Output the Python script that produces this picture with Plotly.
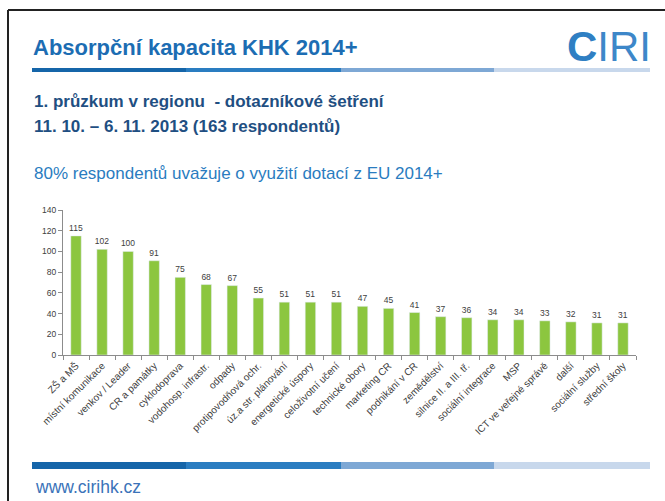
import plotly.graph_objects as go

categories = ["ZŠ a MŠ", "místní komunikace", "venkov / Leader", "CR a památky", "cyklodoprava",
              "vodohosp. infrastr.", "odpady", "protipovodňová ochr.", "úz.a str. plánování",
              "energetické úspory", "celoživotní učení", "technické obory", "marketing CR",
              "podnikání v CR", "zemědělství", "silnice II. a III. tř.", "sociální integrace",
              "MSP", "ICT ve veřejné správě", "další", "sociální služby", "střední školy"]
values = [115, 102, 100, 91, 75, 68, 67, 55, 51, 51, 51, 47, 45, 41, 37, 36, 34, 34, 33, 32, 31, 31]
y_ticks = [0, 20, 40, 60, 80, 100, 120, 140]

title_text = "Absorpční kapacita KHK 2014+"
sub1 = "1. průzkum v regionu  - dotazníkové šetření"
sub2 = "11. 10. – 6. 11. 2013 (163 respondentů)"
note = "80% respondentů uvažuje o využití dotací z EU 2014+"
url = "www.cirihk.cz"

W, H = 665, 501
L, R, T, B = 63, 29, 210, 146
PW, PH = W - L - R, H - T - B


def px(x):
    return (x - L) / PW


def py(y):
    return (H - B - y) / PH


fig = go.Figure(go.Bar(
    x=categories, y=values, marker_color="#8cc63f", width=0.4,
    text=[str(v) for v in values], textposition="outside", constraintext="none",
    textfont=dict(size=8.5, color="#404040", family="Liberation Sans"),
    cliponaxis=False,
))

shapes = []
shapes.append(dict(type="line", xref="paper", yref="paper", x0=px(8), x1=px(665), y0=py(10), y1=py(10),
                   line=dict(color="#222222", width=2)))
shapes.append(dict(type="line", xref="paper", yref="paper", x0=px(8), x1=px(8), y0=py(10), y1=py(501),
                   line=dict(color="#222222", width=2)))
seg_x = [32, 186, 341, 494, 650]
seg_c = ["#1565a9", "#2a7dc1", "#7ea8d5", "#c8d8ec"]
for (ya, yb) in [(68, 72), (462, 469)]:
    for i in range(4):
        shapes.append(dict(type="rect", xref="paper", yref="paper", x0=px(seg_x[i]), x1=px(seg_x[i + 1]),
                           y0=py(yb), y1=py(ya), fillcolor=seg_c[i], line=dict(width=0), layer="below"))

ann = []
ann.append(dict(text="<b>" + title_text + "</b>", x=px(31), y=py(47), xref="paper", yref="paper",
                xanchor="left", yanchor="middle", showarrow=False,
                font=dict(size=22, color="#1c6db3", family="Liberation Sans")))
ann.append(dict(text="<b>" + sub1 + "</b>", x=px(32), y=py(101), xref="paper", yref="paper",
                xanchor="left", yanchor="middle", showarrow=False,
                font=dict(size=17, color="#1f4f82", family="Liberation Sans")))
ann.append(dict(text="<b>" + sub2 + "</b>", x=px(32), y=py(126), xref="paper", yref="paper",
                xanchor="left", yanchor="middle", showarrow=False,
                font=dict(size=17, color="#1f4f82", family="Liberation Sans")))
ann.append(dict(text=note, x=px(32), y=py(173), xref="paper", yref="paper",
                xanchor="left", yanchor="middle", showarrow=False,
                font=dict(size=17, color="#2a7cc0", family="Liberation Sans")))
ann.append(dict(text=url, x=px(33), y=py(487), xref="paper", yref="paper",
                xanchor="left", yanchor="middle", showarrow=False,
                font=dict(size=17.5, color="#3b73b9", family="Liberation Sans")))
ann.append(dict(text="<b><span style='color:#2f7fc3'>C</span></b><span style='color:#3d87c9'>IRI</span>",
                x=px(653), y=py(46), xref="paper", yref="paper",
                xanchor="right", yanchor="middle", showarrow=False,
                font=dict(size=42, family="Liberation Sans")))

fig.update_layout(
    width=W, height=H,
    margin=dict(l=L, r=R, t=T, b=B, pad=0),
    paper_bgcolor="white", plot_bgcolor="white",
    showlegend=False,
    shapes=shapes, annotations=ann,
    xaxis=dict(showline=True, linecolor="#8c8c8c", linewidth=1, ticks="outside", tickson="boundaries",
               ticklen=4, tickcolor="#8c8c8c", tickangle=-45,
               tickfont=dict(size=10, color="#404040", family="Liberation Sans"),
               showgrid=False, fixedrange=True),
    yaxis=dict(range=[0, 140], tickvals=y_ticks, showline=True, linecolor="#8c8c8c", linewidth=1,
               ticks="outside", ticklen=4, tickcolor="#8c8c8c", showgrid=False, zeroline=False,
               tickfont=dict(size=8.5, color="#404040", family="Liberation Sans")),
)

fig.write_html("out.html", config={"displayModeBar": False},
               post_script="document.body.style.margin='0';document.body.style.overflow='hidden';")
